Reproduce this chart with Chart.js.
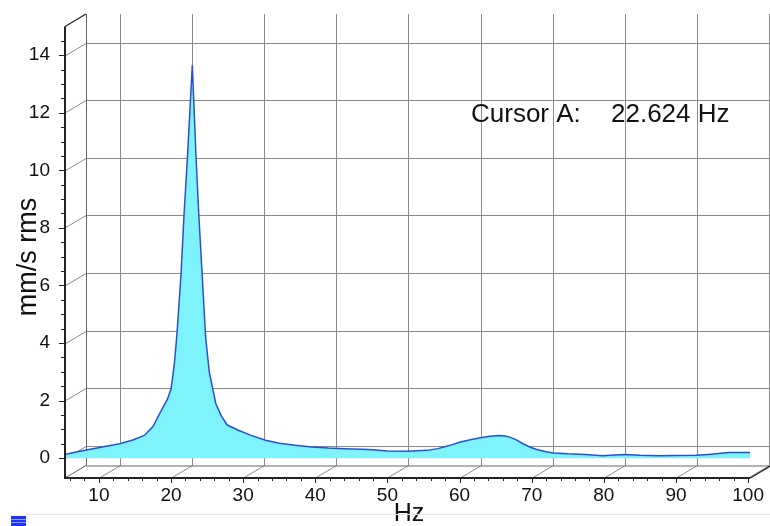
<!DOCTYPE html>
<html>
<head>
<meta charset="utf-8">
<script src="https://cdn.jsdelivr.net/npm/chart.js@4.4.1/dist/chart.umd.min.js"></script>
<style>
  html, body { margin: 0; padding: 0; background: #fff; }
  #wrap { width: 770px; height: 526px; position: relative; }
</style>
</head>
<body>
<div id="wrap"><canvas id="spectrum" width="770" height="526"></canvas></div>
<script>
// Spectrum (Hz / mm/s rms)
const freqHz = [
  5.3, 7.0, 9.2, 11.0, 12.9, 14.7, 16.3, 17.5, 18.4, 19.5, 20.0, 20.45, 20.7, 20.9,
  21.4, 21.8, 22.3, 22.95, 23.45, 23.85, 24.3, 24.8, 25.3, 26.2, 27.0, 27.8, 29.4,
  31.0, 33.1, 35.0, 37.2, 39.5, 41.8, 44.0, 46.4, 48.0, 50.0, 52.8, 55.5, 57.0,
  57.8, 59.0, 60.1, 61.5, 62.9, 64.2, 65.4, 66.3, 67.0, 68.0, 68.8, 69.8, 70.7,
  72.0, 73.0, 75.0, 77.5, 79.8, 81.5, 83.0, 85.0, 87.6, 90.0, 92.7, 94.5, 95.9,
  97.3, 100.3,
];
const amplitude = [
  0.13, 0.22, 0.33, 0.41, 0.50, 0.63, 0.79, 1.1, 1.54, 2.05, 2.4, 3.26, 3.95, 4.6,
  6.45, 8.45, 10.57, 13.65, 10.57, 8.45, 6.45, 4.2, 3.0, 1.9, 1.45, 1.15, 0.96,
  0.8, 0.62, 0.52, 0.45, 0.39, 0.35, 0.33, 0.31, 0.29, 0.25, 0.24, 0.27, 0.33,
  0.39, 0.47, 0.56, 0.64, 0.71, 0.76, 0.79, 0.77, 0.73, 0.62, 0.50, 0.38, 0.30,
  0.22, 0.18, 0.15, 0.13, 0.08, 0.11, 0.13, 0.10, 0.08, 0.09, 0.10, 0.13, 0.16,
  0.2, 0.2,
];

const xTicks = [10, 20, 30, 40, 50, 60, 70, 80, 90, 100];
const yTicks = [0, 2, 4, 6, 8, 10, 12, 14];

const cursorLabel = "Cursor A:";
const cursorValue = "22.624 Hz";

// 3D depth offset of the back wall
const DEPTH_X = 21;
const DEPTH_Y = -12.5;
const FONT = "'Liberation Sans', Arial, sans-serif";

function line(ctx, x1, y1, x2, y2) {
  ctx.beginPath();
  ctx.moveTo(x1, y1);
  ctx.lineTo(x2, y2);
  ctx.stroke();
}

// Back wall, grid and depth lines
const wallPlugin = {
  id: "wall",
  beforeDatasetsDraw(chart) {
    const { ctx, chartArea: a, scales } = chart;
    const xs = scales.x;
    const ys = scales.y;
    const W = chart.width;
    ctx.save();
    ctx.strokeStyle = "#8a8a8a";
    ctx.lineWidth = 1;

    xTicks.forEach((v) => {
      const px = Math.round(xs.getPixelForValue(v) + DEPTH_X) + 0.5;
      line(ctx, px, a.top + DEPTH_Y, px, a.bottom + DEPTH_Y);
      line(ctx, px - DEPTH_X, a.bottom, px, a.bottom + DEPTH_Y);
    });
    yTicks.forEach((v) => {
      const py = Math.round(ys.getPixelForValue(v) + DEPTH_Y) + 0.5;
      line(ctx, a.left + DEPTH_X, py, W, py);
      line(ctx, a.left, py - DEPTH_Y, a.left + DEPTH_X, py);
    });

    // wall edges
    ctx.strokeStyle = "#666";
    line(ctx, a.left + DEPTH_X + 0.5, a.top + DEPTH_Y, a.left + DEPTH_X + 0.5, a.bottom + DEPTH_Y);
    line(ctx, a.left + DEPTH_X, a.bottom + DEPTH_Y + 0.5, W, a.bottom + DEPTH_Y + 0.5);
    line(ctx, a.left, a.bottom, a.left + DEPTH_X, a.bottom + DEPTH_Y);
    ctx.restore();
  },
  afterDatasetsDraw(chart) {
    const { ctx, chartArea: a, scales } = chart;
    const xs = scales.x;
    const ys = scales.y;
    ctx.save();
    ctx.strokeStyle = "#222";

    // minor ticks
    ctx.lineWidth = 1;
    for (let v = 0; v <= 14.5; v += 0.5) {
      const py = Math.round(ys.getPixelForValue(v)) + 0.5;
      const len = v % 2 === 0 ? 6 : 4;
      line(ctx, a.left - len, py, a.left, py);
    }
    for (let v = 6; v <= 100; v += 2) {
      const px = Math.round(xs.getPixelForValue(v)) + 0.5;
      const len = v % 10 === 0 ? 5 : 3;
      line(ctx, px, a.bottom, px, a.bottom + len);
    }

    // front axes
    ctx.lineWidth = 2;
    line(ctx, a.left, a.top, a.left, a.bottom + 1);
    line(ctx, a.left, a.bottom, a.right, a.bottom);
    ctx.lineWidth = 1.2;
    line(ctx, a.left, a.top, a.left + DEPTH_X, a.top + DEPTH_Y);
    line(ctx, a.right, a.bottom, a.right + DEPTH_X, a.bottom + DEPTH_Y);
    ctx.restore();
  },
  afterDraw(chart) {
    const { ctx } = chart;
    ctx.save();
    ctx.fillStyle = "#111";

    ctx.font = "26px " + FONT;
    ctx.textBaseline = "alphabetic";
    ctx.textAlign = "left";
    ctx.fillText(cursorLabel, 471, 122);
    ctx.fillText(cursorValue, 611, 122);

    ctx.font = "25px " + FONT;
    ctx.textAlign = "center";
    ctx.fillText("Hz", 409, 521);

    ctx.save();
    ctx.translate(36, 257);
    ctx.rotate(-Math.PI / 2);
    ctx.font = "27px " + FONT;
    ctx.fillText("mm/s rms", 0, 0);
    ctx.restore();

    // status strip at the bottom
    ctx.strokeStyle = "#e2e2e2";
    ctx.lineWidth = 1;
    line(ctx, 26, 514.5, chart.width, 514.5);
    ctx.fillStyle = "#1e32ff";
    ctx.fillRect(11, 516, 15, 10);
    ctx.strokeStyle = "#8fa0ff";
    line(ctx, 11, 519.5, 26, 519.5);
    line(ctx, 11, 522.5, 26, 522.5);
    ctx.restore();
  },
};

new Chart(document.getElementById("spectrum"), {
  type: "line",
  data: {
    datasets: [
      {
        data: freqHz.map((f, i) => ({ x: f, y: amplitude[i] })),
        borderColor: "#2c4fd2",
        borderWidth: 1.5,
        backgroundColor: "#7ff3fb",
        fill: "origin",
        pointRadius: 0,
        tension: 0,
      },
    ],
  },
  options: {
    responsive: false,
    devicePixelRatio: 1,
    animation: false,
    layout: { padding: { top: 21, right: 15, left: 0, bottom: 0 } },
    plugins: {
      legend: { display: false },
      tooltip: { enabled: false },
    },
    scales: {
      x: {
        type: "linear",
        min: 5.3,
        max: 100.3,
        afterBuildTicks: (s) => {
          s.ticks = xTicks.map((v) => ({ value: v }));
        },
        afterFit: (s) => {
          s.height = 48;
        },
        grid: { display: false, drawTicks: false },
        border: { display: false },
        ticks: {
          padding: 6,
          maxRotation: 0,
          autoSkip: false,
          color: "#111",
          font: { family: FONT, size: 19 },
        },
      },
      y: {
        min: -0.69,
        max: 15.0,
        afterBuildTicks: (s) => {
          s.ticks = yTicks.map((v) => ({ value: v }));
        },
        afterFit: (s) => {
          s.width = 65;
        },
        grid: { display: false, drawTicks: false },
        border: { display: false },
        ticks: {
          padding: 15,
          color: "#111",
          font: { family: FONT, size: 19 },
        },
      },
    },
  },
  plugins: [wallPlugin],
});
</script>
</body>
</html>
